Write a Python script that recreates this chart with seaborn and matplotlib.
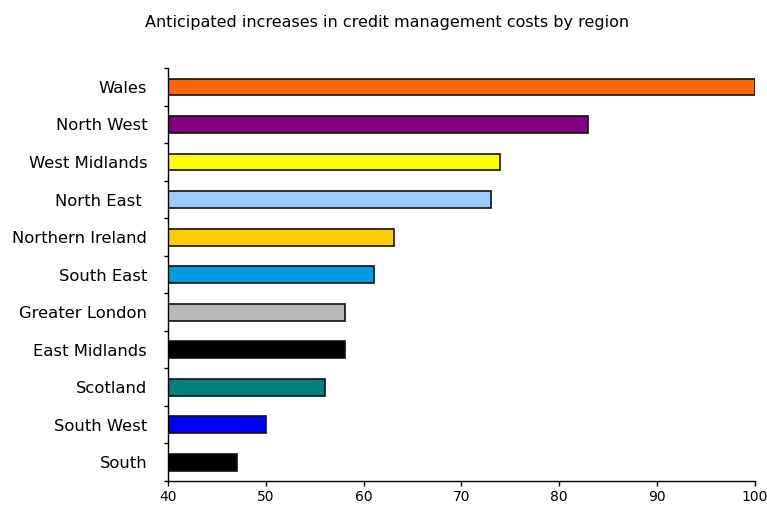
import numpy as np
import pandas as pd
import matplotlib
matplotlib.use("Agg")
import matplotlib.pyplot as plt
import seaborn as sns

regions = ["Wales", "North West", "West Midlands", "North East ", "Northern Ireland",
           "South East", "Greater London", "East Midlands", "Scotland", "South West", "South"]
values = [100, 83, 74, 73, 63.1, 61.1, 58.1, 58.1, 56.1, 50, 47.1]
colors = ["#FF6600", "#800080", "#FFFF00", "#99CCFF", "#FFCC00",
          "#009ADE", "#B8B8B8", "#000000", "#008080", "#0000FF", "#000000"]
x_ticks = [40, 50, 60, 70, 80, 90, 100]

sns.set_style("white")
plt.rcParams['font.family'] = ['DejaVu Sans']

df = pd.DataFrame({"region": regions, "value": values})
fig = plt.figure(figsize=(7.67, 5.09), dpi=100)
ax = fig.add_axes([0.219, 0.055, 0.765, 0.811])
sns.barplot(data=df, x="value", y="region", hue="region", palette=dict(zip(regions, colors)),
            orient="h", width=0.45, edgecolor="#111111", linewidth=1.2, saturation=1,
            legend=False, ax=ax)
ax.set_xlim(40, 100)
ax.set_ylim(10.5, -0.5)
ax.set_xticks(x_ticks)
ax.set_xticklabels([str(t) for t in x_ticks], fontsize=10, color="black")
ax.tick_params(axis="x", direction="out", length=3.5, width=1, color="black", bottom=True, pad=3)
ax.tick_params(axis="y", which="major", length=0, labelsize=11.8, pad=15, labelcolor="black")
ax.set_yticks(np.arange(-0.5, 11, 1), minor=True)
ax.tick_params(axis="y", which="minor", direction="out", length=3, width=1, color="black", left=True)
for s in ["top", "right"]:
    ax.spines[s].set_visible(False)
for s in ["left", "bottom"]:
    ax.spines[s].set_color("black")
    ax.spines[s].set_linewidth(1)
ax.set_xlabel("")
ax.set_ylabel("")
fig.text(0.505, 0.955, "Anticipated increases in credit management costs by region",
         ha="center", va="center", fontsize=11.5, color="black")
fig.savefig("out.png", dpi=100)
